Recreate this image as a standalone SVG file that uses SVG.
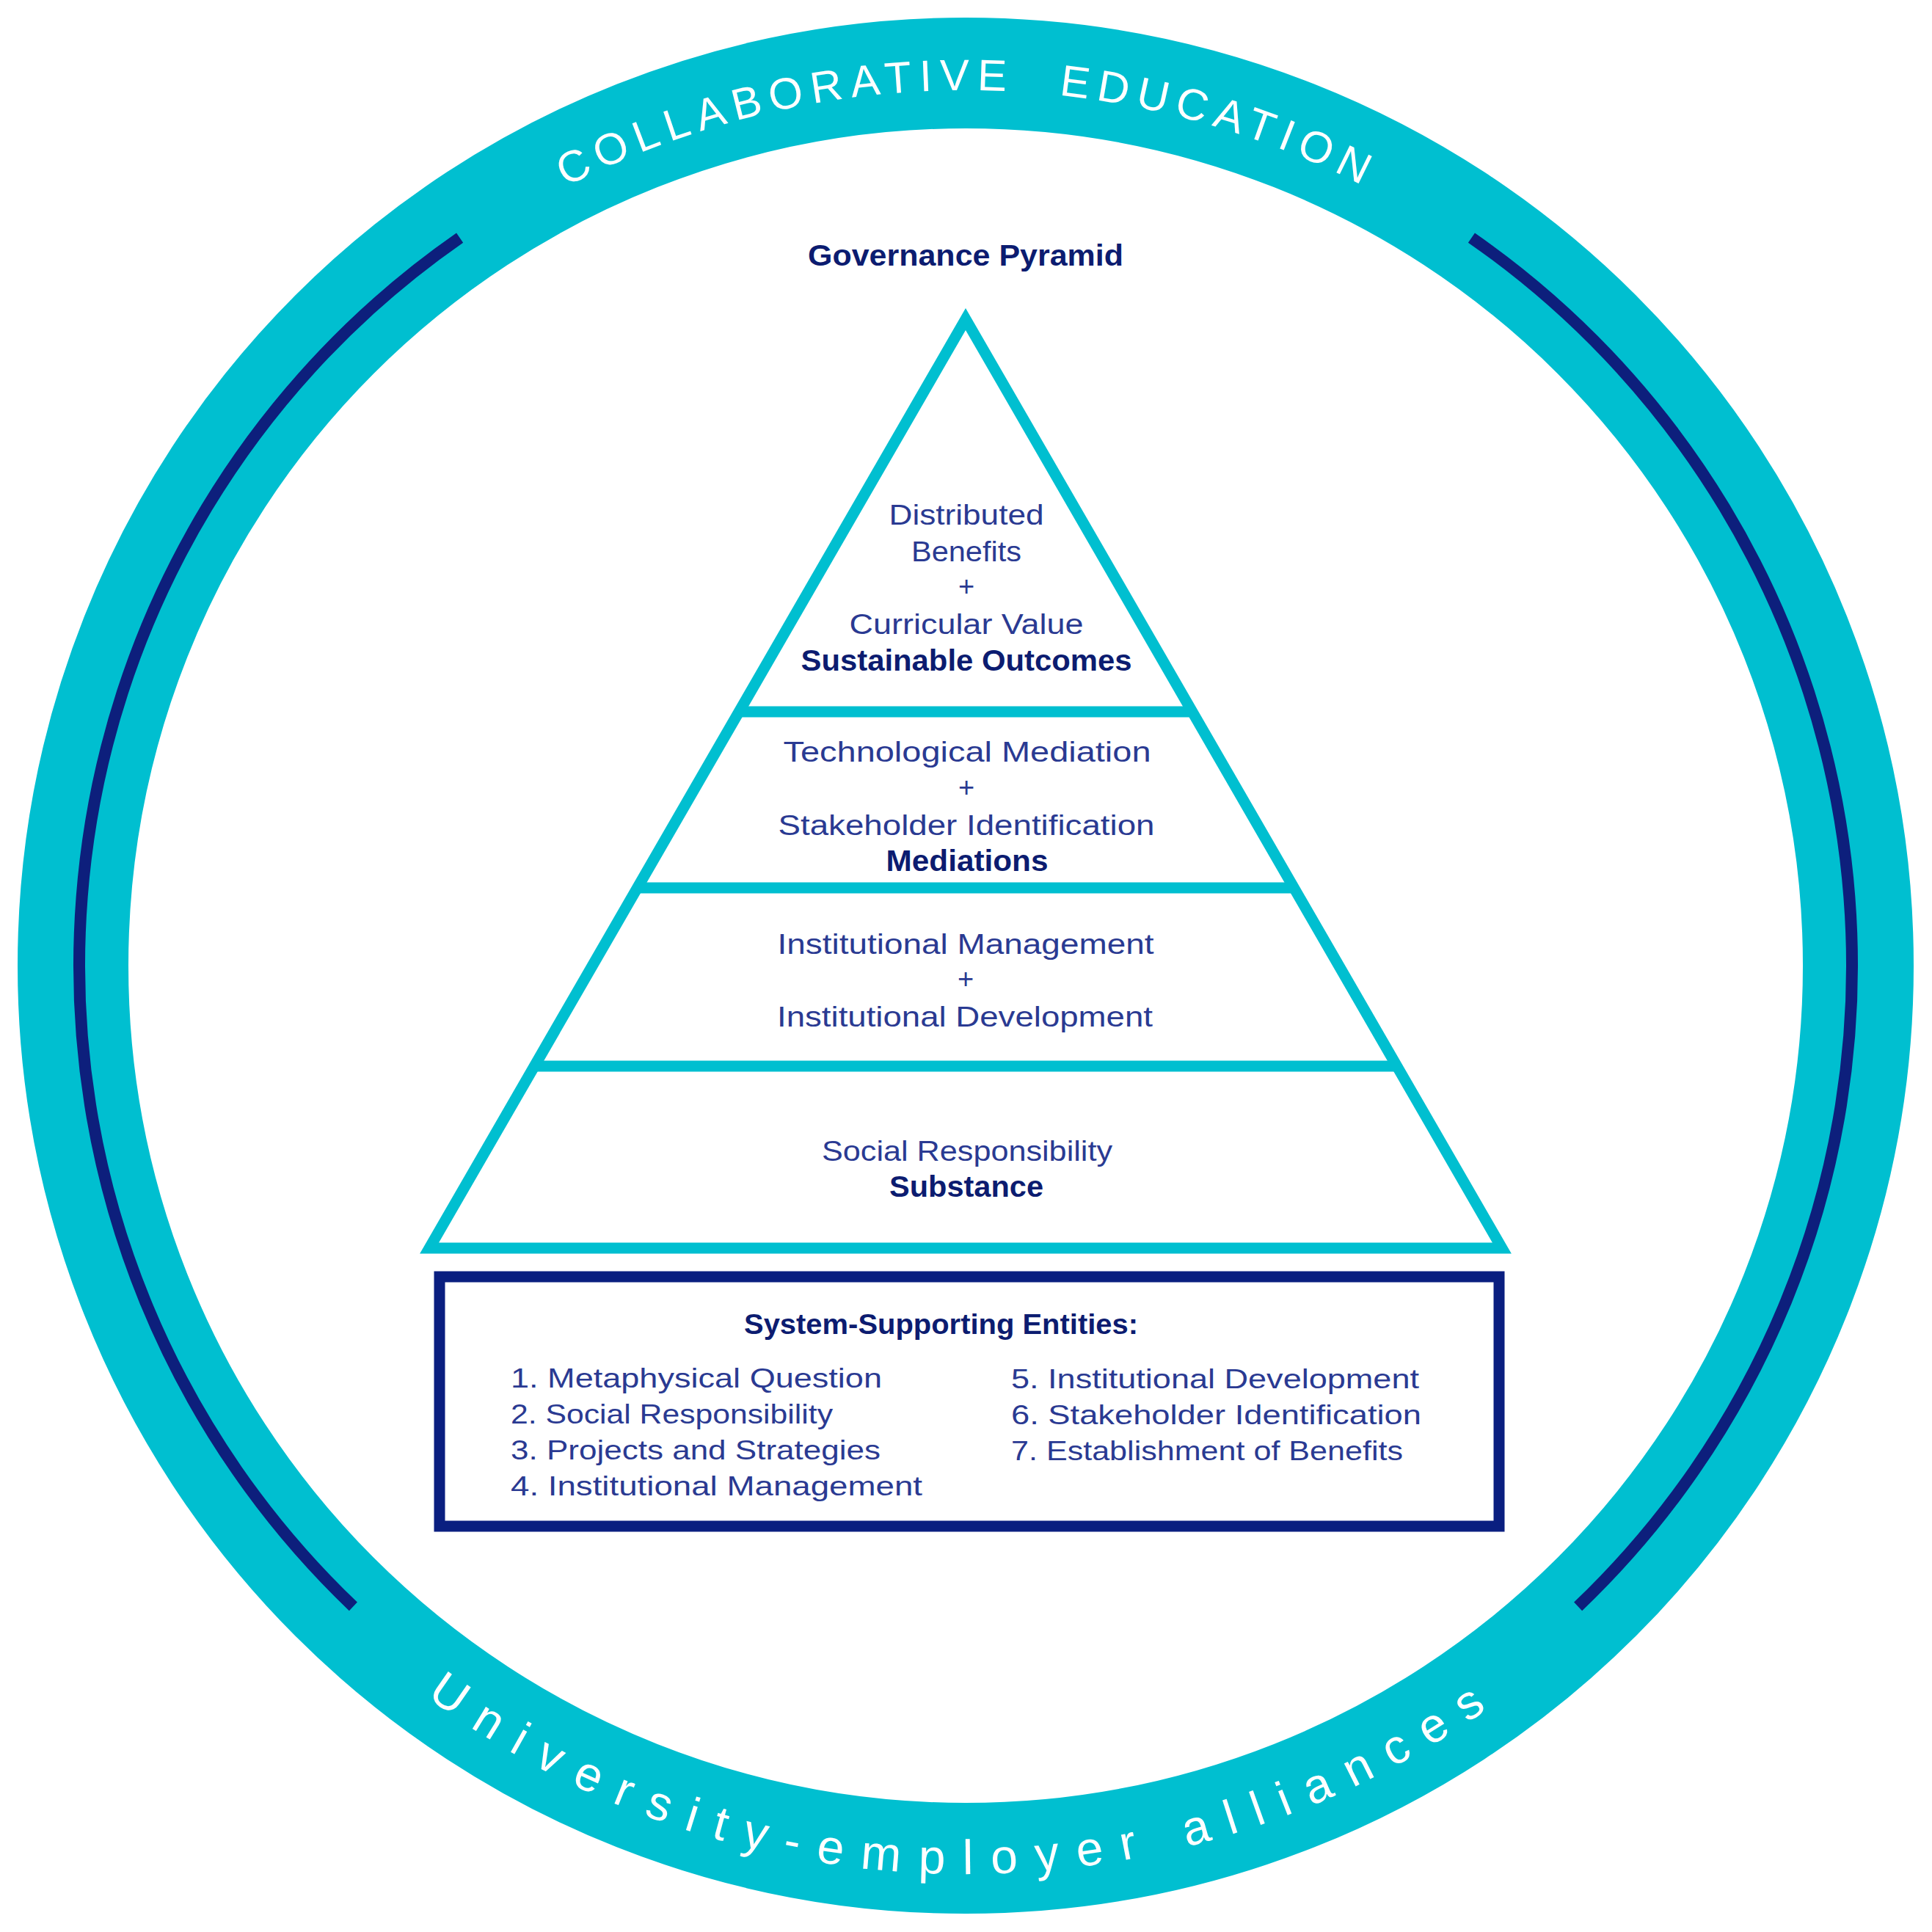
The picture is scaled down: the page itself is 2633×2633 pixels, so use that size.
<svg xmlns="http://www.w3.org/2000/svg" width="2633" height="2633" viewBox="0 0 2633 2633">
  <style>
    .ring { fill: none; stroke: #00BFD0; stroke-width: 151; }
    .arc { fill: none; stroke: #0D1F7C; stroke-width: 16; stroke-linecap: butt; }
    .tri { fill: #FFFFFF; stroke: #00BFD0; stroke-width: 15; stroke-linejoin: miter; stroke-miterlimit: 10; }
    .bar { stroke: #00BFD0; stroke-width: 15; }
    .box { fill: #FFFFFF; stroke: #0A1F80; stroke-width: 15; }
    .reg { font-family: "Liberation Sans", Arial, sans-serif; font-size: 38px; fill: #2A3A92; text-anchor: middle; }
    .bold { font-family: "Liberation Sans", Arial, sans-serif; font-size: 40px; font-weight: bold; fill: #0C1C70; text-anchor: middle; }
    .item { font-family: "Liberation Sans", Arial, sans-serif; font-size: 37px; fill: #2A3A92; }
    .head { font-family: "Liberation Sans", Arial, sans-serif; font-size: 38px; font-weight: bold; fill: #0C1C70; }
    .ringtext { font-family: "Liberation Sans", Arial, sans-serif; fill: #FFFFFF; text-anchor: middle; }
  </style>
  <defs>
    <path id="topPath" d="M 123 1316 A 1193 1193 0 0 1 2509 1316"/>
    <path id="botPath" d="M 78 1316 A 1238 1238 0 0 0 2554 1316"/>
  </defs>

  <rect x="0" y="0" width="2633" height="2633" fill="#FFFFFF"/>

  <g id="outer-ring">
    <circle class="ring" cx="1316" cy="1316" r="1216.5"/>
    <path class="arc" d="M 626.6 324.1 A 1208 1208 0 0 0 481.4 2189.4"/>
    <path class="arc" d="M 2005.4 324.1 A 1208 1208 0 0 1 2150.6 2189.4"/>
    <text class="ringtext" font-size="60" letter-spacing="10.5"><textPath href="#topPath" startOffset="1876">COLLABORATIVE <tspan dx="34">EDUCATION</tspan></textPath></text>
    <text class="ringtext" font-size="66" letter-spacing="24.5"><textPath href="#botPath" startOffset="1942">University-employer alliances</textPath></text>
  </g>

  <g id="title">
    <text class="bold" x="1316" y="362" font-size="38" textLength="430" lengthAdjust="spacingAndGlyphs">Governance Pyramid</text>
  </g>

  <g id="pyramid">
    <path class="tri" d="M 1316 435 L 2046.9 1701 L 585.1 1701 Z"/>
    <line class="bar" x1="1007.1" y1="970" x2="1624.9" y2="970"/>
    <line class="bar" x1="868.6" y1="1210" x2="1763.4" y2="1210"/>
    <line class="bar" x1="728.3" y1="1453" x2="1903.7" y2="1453"/>
  </g>

  <g id="tier-sustainable-outcomes">
    <text class="reg" x="1317" y="715" textLength="211" lengthAdjust="spacingAndGlyphs">Distributed</text>
    <text class="reg" x="1317" y="765" textLength="150" lengthAdjust="spacingAndGlyphs">Benefits</text>
    <text class="reg" x="1317" y="812">+</text>
    <text class="reg" x="1317" y="864" textLength="319" lengthAdjust="spacingAndGlyphs">Curricular Value</text>
    <text class="bold" x="1317" y="914" textLength="451" lengthAdjust="spacingAndGlyphs">Sustainable Outcomes</text>
  </g>

  <g id="tier-mediations">
    <text class="reg" x="1318" y="1038" textLength="501" lengthAdjust="spacingAndGlyphs">Technological Mediation</text>
    <text class="reg" x="1317" y="1086">+</text>
    <text class="reg" x="1317" y="1138" textLength="513" lengthAdjust="spacingAndGlyphs">Stakeholder Identification</text>
    <text class="bold" x="1318" y="1187" textLength="221" lengthAdjust="spacingAndGlyphs">Mediations</text>
  </g>

  <g id="tier-institutional">
    <text class="reg" x="1316" y="1300" textLength="513" lengthAdjust="spacingAndGlyphs">Institutional Management</text>
    <text class="reg" x="1316" y="1347">+</text>
    <text class="reg" x="1315" y="1399" textLength="512" lengthAdjust="spacingAndGlyphs">Institutional Development</text>
  </g>

  <g id="tier-substance">
    <text class="reg" x="1318" y="1582" textLength="396" lengthAdjust="spacingAndGlyphs">Social Responsibility</text>
    <text class="bold" x="1317" y="1631" textLength="210" lengthAdjust="spacingAndGlyphs">Substance</text>
  </g>

  <g id="system-supporting-entities">
    <rect class="box" x="599" y="1740" width="1444" height="340"/>
    <text class="head" x="1014" y="1818" textLength="537" lengthAdjust="spacingAndGlyphs">System-Supporting Entities:</text>
    <text class="item" x="696" y="1891" textLength="506" lengthAdjust="spacingAndGlyphs">1. Metaphysical Question</text>
    <text class="item" x="696" y="1940" textLength="439" lengthAdjust="spacingAndGlyphs">2. Social Responsibility</text>
    <text class="item" x="696" y="1989" textLength="504" lengthAdjust="spacingAndGlyphs">3. Projects and Strategies</text>
    <text class="item" x="696" y="2038" textLength="561" lengthAdjust="spacingAndGlyphs">4. Institutional Management</text>
    <text class="item" x="1378" y="1892" textLength="556" lengthAdjust="spacingAndGlyphs">5. Institutional Development</text>
    <text class="item" x="1378" y="1941" textLength="559" lengthAdjust="spacingAndGlyphs">6. Stakeholder Identification</text>
    <text class="item" x="1378" y="1990" textLength="534" lengthAdjust="spacingAndGlyphs">7. Establishment of Benefits</text>
  </g>

  <g id="connectors"></g>
</svg>
